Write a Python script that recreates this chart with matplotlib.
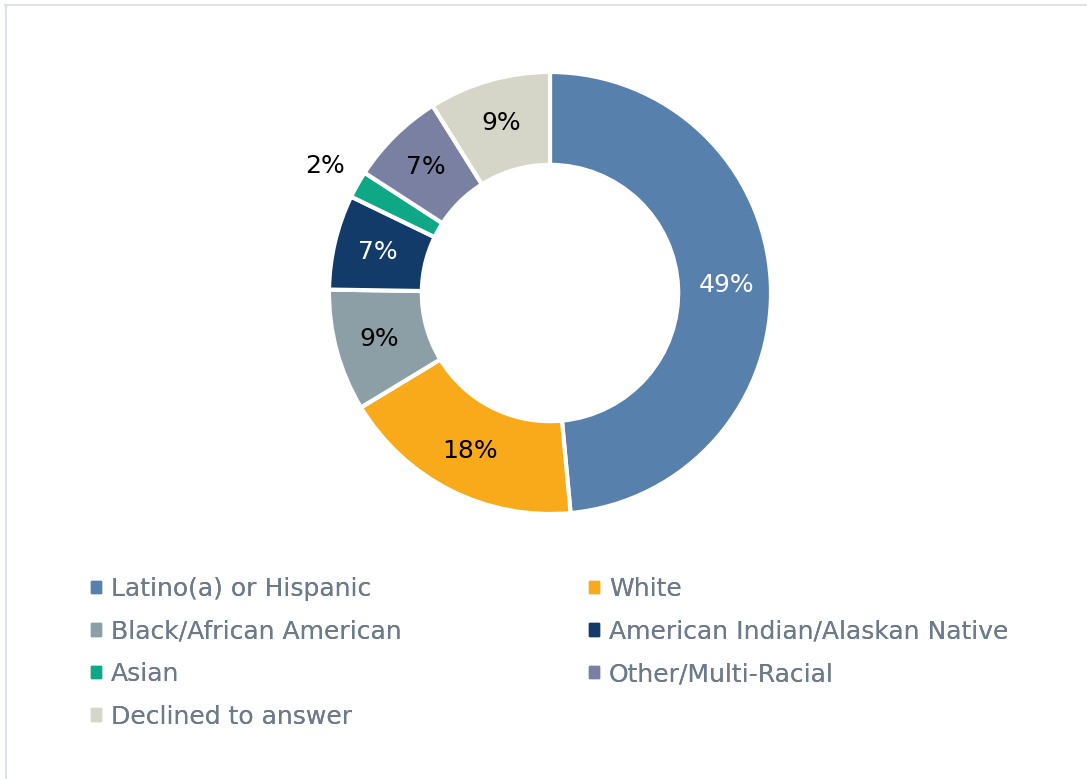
import matplotlib
matplotlib.use("Agg")
import matplotlib.pyplot as plt
from matplotlib.lines import Line2D
import numpy as np

plt.rcParams['font.family'] = ['DejaVu Sans']

# data
categories = ["Latino(a) or Hispanic", "White", "Black/African American",
              "American Indian/Alaskan Native", "Asian", "Other/Multi-Racial",
              "Declined to answer"]
shares = [49, 18, 9, 7, 2, 7, 9]
colors = ["#5880AC", "#F9AA1A", "#8C9FA6", "#133B69", "#0FA886", "#7A80A2", "#D5D6C8"]
label_colors = ["white", "black", "black", "white", "black", "black", "black"]

W, H = 1087, 779
fig = plt.figure(figsize=(W / 100, H / 100), dpi=100)

# donut axes: centre (550, 293) px, outer radius 221 px
cx, cy, r = 550, 293, 221
ax = fig.add_axes([(cx - r) / W, (H - cy - r) / H, 2 * r / W, 2 * r / H])
wedges, _ = ax.pie(shares, colors=colors, startangle=90, counterclock=False,
                   radius=1, wedgeprops=dict(width=0.42, edgecolor="white", linewidth=3))
ax.set_xlim(-1, 1)
ax.set_ylim(-1, 1)
ax.set_aspect("equal")
ax.axis("off")

for w, val, lc in zip(wedges, shares, label_colors):
    ang = np.deg2rad((w.theta1 + w.theta2) / 2)
    dist = 0.8 if val >= 5 else 1.17
    ax.text(dist * np.cos(ang), dist * np.sin(ang), f"{val}%", ha="center", va="center",
            fontsize=18, color=lc)

# legend is laid out row by row: left column and right column
columns = [([0, 2, 4, 6], 91), ([1, 3, 5], 589)]
for idx, x0 in columns:
    handles = [plt.Rectangle((0, 0), 1, 1, color=colors[i]) for i in idx]
    leg = fig.legend(handles, [categories[i] for i in idx], loc="upper left",
                     bbox_to_anchor=(x0 / W, 1 - 577 / H), frameon=False,
                     fontsize=18, handlelength=0.4, handleheight=0.4, handletextpad=0.4,
                     labelspacing=0.74, borderpad=0, borderaxespad=0)
    for t in leg.get_texts():
        t.set_color("#6D7A8A")
    fig.add_artist(leg)

# light frame lines visible at top and left edges
fig.add_artist(Line2D([5 / W, 1], [1 - 5 / H, 1 - 5 / H], transform=fig.transFigure,
                      color="#E2E2E2", lw=1.5))
fig.add_artist(Line2D([6 / W, 6 / W], [0, 1 - 5 / H], transform=fig.transFigure,
                      color="#DDE3EA", lw=1.5))

fig.savefig("out.png", dpi=100)
